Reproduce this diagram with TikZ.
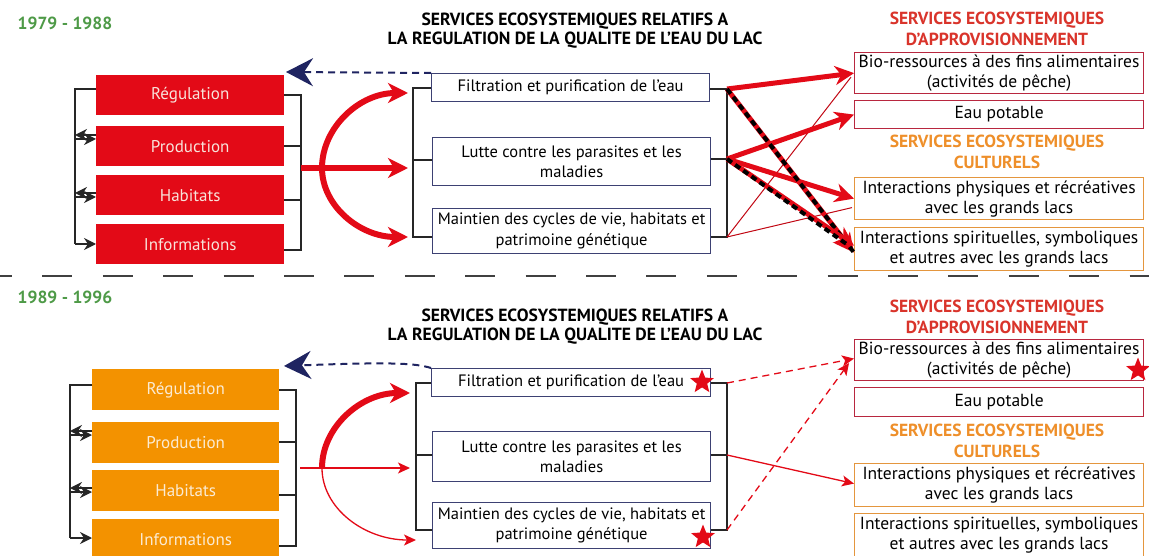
\documentclass[tikz,border=0pt]{standalone}
\usepackage{fontspec}
\setmainfont{PT Sans}
\usepackage{xcolor}
\usetikzlibrary{positioning,shapes.geometric,arrows.meta,calc}

\definecolor{regred}{HTML}{E30A17}
\definecolor{regorange}{HTML}{F39200}
\definecolor{yeargreen}{HTML}{4E9A47}
\definecolor{navyblue}{HTML}{1F2461}
\definecolor{boxblue}{HTML}{3D4173}
\definecolor{headred}{HTML}{D9342B}
\definecolor{headorange}{HTML}{EE8F2A}
\definecolor{edgered}{HTML}{B8273F}
\definecolor{edgeorange}{HTML}{E4963E}
\definecolor{palepink}{HTML}{F8E3DA}
\definecolor{cream}{HTML}{FBEBD3}

\begin{document}
\begin{tikzpicture}[x=1pt, y=-1pt,
  every node/.style={inner sep=0pt, font=\fontsize{16.5}{20.5}\selectfont},
  year/.style ={font=\bfseries\fontsize{17.5}{19}\selectfont, text=yeargreen},
  title/.style={font=\bfseries\fontsize{17.6}{19}\selectfont, align=center},
  head/.style ={font=\bfseries\fontsize{17.5}{21}\selectfont, align=center},
  func/.style ={anchor=north west, minimum width=188pt, minimum height=40pt,
                font=\fontsize{17}{19}\selectfont},
  redfunc/.style={func, fill=regred, text=palepink},
  orgfunc/.style={func, fill=regorange, text=cream},
  qual/.style ={anchor=north west, draw=boxblue, line width=1.2pt,
                minimum width=278pt, align=center},
  svc/.style  ={anchor=north west, line width=1.2pt, minimum width=289pt,
                align=center, font=\fontsize{17.5}{20}\selectfont},
  redsvc/.style={svc, draw=edgered},
  orgsvc/.style={svc, draw=edgeorange},
  redstar/.style={star, star points=5, star point ratio=2.3, fill=regred,
               minimum size=25pt},
  brk/.style ={line width=1.3pt, black!85},
  blkarr/.style={brk, -{Stealth[length=12pt,width=12pt,inset=4pt]}},
  fatarr/.style={line width=6pt, regred,
                 -{Stealth[length=20pt,width=20pt,inset=6pt]}},
  bigarr/.style={line width=5pt, regred,
                 -{Stealth[length=19pt,width=19pt,inset=6pt]}},
  thinarr/.style={line width=1.3pt, regred,
                 -{Stealth[length=12pt,width=11pt,inset=3pt]}},
  thinline/.style={line width=1pt, regred!85!black},
  blackdash/.style={line width=4pt, black, dash pattern=on 6pt off 4pt},
  navyarr/.style={line width=2pt, navyblue, dash pattern=on 7pt off 5pt,
                  -{Stealth[length=27pt,width=28pt,inset=9pt,sep=0pt]}},
  sepline/.style={line width=2pt, black!75, dash pattern=on 30pt off 30.4pt,
                  dash phase=18pt}
]
\useasboundingbox (0,0) rectangle (1149,556);

%% --- Period 1 : headers --------------------------------------
\node[year] (year1) at (65,23) {1979 - 1988};
\node[title] (title1) at (575,31)
  {SERVICES ECOSYSTEMIQUES RELATIFS A\\LA REGULATION DE LA QUALITE DE L’EAU DU LAC};

%% --- Period 1 : functions ------------------------------------
\node[redfunc] (reg1)  at (96,75)  {Régulation};
\node[redfunc] (prod1) at (96,126) {Production};
\node[redfunc] (hab1)  at (96,175) {Habitats};
\node[redfunc] (info1) at (96,224) {Informations};

\coordinate (lbR1) at (75,89);
\coordinate (lbP1) at (75,137);
\coordinate (lbH1) at (75,195);
\coordinate (lbI1) at (75,244);
\draw[brk] (reg1.west |- lbR1) -- (lbR1) -- (lbI1);
\draw[blkarr] ($(prod1.west |- lbP1)+(0,-2)$) -- ($(lbP1)+(0,-2)$);
\draw[blkarr] ($(lbP1)+(0,2)$) -- ($(prod1.west |- lbP1)+(0,2)$);
\draw[blkarr] ($(hab1.west |- lbH1)+(0,-2)$) -- ($(lbH1)+(0,-2)$);
\draw[blkarr] ($(lbH1)+(0,2)$) -- ($(hab1.west |- lbH1)+(0,2)$);
\draw[blkarr] (lbI1) -- (info1.west |- lbI1);

\coordinate (rbR1) at (301,95);
\coordinate (rbP1) at (301,146);
\coordinate (rbH1) at (301,200);
\coordinate (rbI1) at (301,250);
\draw[brk] (reg1.east |- rbR1) -- (rbR1) -- (rbI1) -- (info1.east |- rbI1);
\draw[brk] (prod1.east |- rbP1) -- (rbP1);
\draw[brk] (hab1.east |- rbH1) -- (rbH1);

%% --- Period 1 : water quality services -----------------------
\node[qual, minimum height=28pt] (filt1)  at (431,73)  {Filtration et purification de l’eau};
\node[qual, minimum height=48pt] (lutte1) at (432,137) {Lutte contre les parasites et les\\maladies};
\node[qual, minimum height=45pt] (maint1) at (432,208) {Maintien des cycles de vie, habitats et\\patrimoine génétique};

\coordinate (mbF1) at (413,88);
\coordinate (mbL1) at (413,160);
\coordinate (mbM1) at (413,237);
\draw[brk] (filt1.west |- mbF1) -- (mbF1) -- (mbM1) -- (maint1.west |- mbM1);
\draw[brk] (lutte1.west |- mbL1) -- (mbL1);

\coordinate (mrF1) at (727,89);
\coordinate (mrL1) at (727,159);
\coordinate (mrM1) at (727,237);
\draw[brk] (filt1.east |- mrF1) -- (mrF1) -- (mrM1) -- (maint1.east |- mrM1);
\draw[brk] (lutte1.east |- mrL1) -- (mrL1);

%% --- Period 1 : functions -> services ------------------------
\coordinate (out1)  at (301,168);
\coordinate (fork1) at (322,168);
\coordinate (inF1)  at (408,93);
\coordinate (inL1)  at (408,168);
\coordinate (inM1)  at (408,237);
\draw[fatarr] (out1) -- (inL1);
\draw[fatarr] (fork1) .. controls (322,127) and (360,93) .. (inF1);
\draw[fatarr] (fork1) .. controls (322,206) and (360,237) .. (inM1);
\draw[navyarr] (filt1.north west) -- (286,72);

%% --- Period 1 : final services -------------------------------
\node[head, text=headred]    (hprov1) at (997,29)  {SERVICES ECOSYSTEMIQUES\\D’APPROVISIONNEMENT};
\node[redsvc, minimum height=41pt] (bio1) at (854,52)  {Bio-ressources à des fins alimentaires\\(activités de pêche)};
\node[redsvc, minimum height=28pt] (eau1) at (854,100) {Eau potable};
\node[head, text=headorange] (hcult1) at (997,152) {SERVICES ECOSYSTEMIQUES\\CULTURELS};
\node[orgsvc, minimum height=42pt] (phys1) at (854,177) {Interactions physiques et récréatives\\avec les grands lacs};
\node[orgsvc, minimum height=43pt] (spir1) at (854,227) {Interactions spirituelles, symboliques\\et autres avec les grands lacs};

\draw[thinline] (mrM1) -- ($(bio1.west)+(-3,4)$);
\draw[thinline] (mrM1) -- ($(phys1.west)+(-2,9)$);
\draw[bigarr] (mrF1) -- (bio1.west);
\draw[bigarr] (mrL1) -- (eau1.west);
\draw[bigarr] (mrL1) -- (phys1.west);
\draw[bigarr] (mrF1) -- ($(spir1.west)+(0,3.5)$);
\draw[blackdash] (mrF1) -- ($(spir1.west)+(0,3.5)$);
\draw[bigarr] (mrL1) -- ($(spir1.west)+(0,-3.5)$);
\draw[blackdash] (mrL1) -- ($(spir1.west)+(-6,-4)$);

%% --- Separator -----------------------------------------------
\coordinate (sepL) at (0,276);
\coordinate (sepR) at (1149,276);
\draw[sepline] (sepL) -- (sepR);

%% --- Period 2 : headers --------------------------------------
\node[year] (year2) at (65,297) {1989 - 1996};
\node[title] (title2) at (575,327)
  {SERVICES ECOSYSTEMIQUES RELATIFS A\\LA REGULATION DE LA QUALITE DE L’EAU DU LAC};

%% --- Period 2 : functions ------------------------------------
\node[orgfunc, minimum width=187pt, minimum height=41pt] (reg2)  at (92,369) {Régulation};
\node[orgfunc, minimum width=187pt, minimum height=41pt] (prod2) at (92,422) {Production};
\node[orgfunc, minimum width=187pt, minimum height=41pt] (hab2)  at (92,470) {Habitats};
\node[orgfunc, minimum width=187pt, minimum height=41pt] (info2) at (92,519) {Informations};

\coordinate (lbR2) at (70,385);
\coordinate (lbP2) at (70,433);
\coordinate (lbH2) at (70,490);
\coordinate (lbI2) at (70,538);
\draw[brk] (reg2.west |- lbR2) -- (lbR2) -- (lbI2);
\draw[blkarr] ($(prod2.west |- lbP2)+(0,-2)$) -- ($(lbP2)+(0,-2)$);
\draw[blkarr] ($(lbP2)+(0,2)$) -- ($(prod2.west |- lbP2)+(0,2)$);
\draw[blkarr] ($(hab2.west |- lbH2)+(0,-2)$) -- ($(lbH2)+(0,-2)$);
\draw[blkarr] ($(lbH2)+(0,2)$) -- ($(hab2.west |- lbH2)+(0,2)$);
\draw[blkarr] (lbI2) -- (info2.west |- lbI2);

\coordinate (rbR2) at (296,390);
\coordinate (rbP2) at (296,442);
\coordinate (rbH2) at (296,495);
\coordinate (rbI2) at (296,546);
\draw[brk] (reg2.east |- rbR2) -- (rbR2) -- (rbI2) -- (info2.east |- rbI2);
\draw[brk] (prod2.east |- rbP2) -- (rbP2);
\draw[brk] (hab2.east |- rbH2) -- (rbH2);

%% --- Period 2 : water quality services -----------------------
\node[qual, minimum width=279pt, minimum height=28pt] (filt2) at (431,368) {Filtration et purification de l’eau};
\node[qual, minimum height=50pt] (lutte2) at (432,431) {Lutte contre les parasites et les\\maladies};
\node[qual, minimum height=46pt] (maint2) at (432,502) {Maintien des cycles de vie, habitats et\\patrimoine génétique};

\coordinate (mbF2) at (416,383);
\coordinate (mbL2) at (416,455);
\coordinate (mbM2) at (416,530);
\draw[brk] (filt2.west |- mbF2) -- (mbF2) -- (mbM2) -- (maint2.west |- mbM2);
\draw[brk] (lutte2.west |- mbL2) -- (mbL2);

\coordinate (mrF2) at (727,383);
\coordinate (mrL2) at (727,455);
\coordinate (mrM2) at (727,530);
\draw[brk] (filt2.east |- mrF2) -- (mrF2) -- (mrM2) -- (maint2.east |- mrM2);
\draw[brk] (lutte2.east |- mrL2) -- (mrL2);

\node[redstar] (star1) at (702,382) {};
\node[redstar] (star2) at (703,537) {};

%% --- Period 2 : functions -> services ------------------------
\coordinate (out2)  at (300,468);
\coordinate (fork2) at (322,468);
\coordinate (inF2)  at (410,393);
\coordinate (inL2)  at (410,468);
\coordinate (inM2)  at (416,540);
\draw[thinarr] (out2) -- (inL2);
\draw[fatarr] (fork2) .. controls (322,427) and (361,393) .. (inF2);
\draw[thinarr] (fork2) .. controls (322,508) and (364,540) .. (inM2);
\draw[navyarr] (filt2.north west) .. controls (415,363) and (390,362) .. (284,366);

%% --- Period 2 : final services -------------------------------
\node[head, text=headred]    (hprov2) at (997,317) {SERVICES ECOSYSTEMIQUES\\D’APPROVISIONNEMENT};
\node[redsvc, minimum height=41pt] (bio2) at (854,339) {Bio-ressources à des fins alimentaires\\(activités de pêche)};
\node[redsvc, minimum height=29pt] (eau2) at (854,387) {Eau potable};
\node[head, text=headorange] (hcult2) at (997,441) {SERVICES ECOSYSTEMIQUES\\CULTURELS};
\node[orgsvc, minimum height=43pt] (phys2) at (854,463) {Interactions physiques et récréatives\\avec les grands lacs};
\node[orgsvc, minimum height=43pt] (spir2) at (854,513) {Interactions spirituelles, symboliques\\et autres avec les grands lacs};

\node[redstar] (star3) at (1138,370) {};

\draw[thinarr, dash pattern=on 7pt off 5pt] (mrF2) -- ($(bio2.west)+(0,-1.5)$);
\draw[thinarr, dash pattern=on 7pt off 5pt] (mrM2) -- ($(bio2.west)+(-5,3)$);
\draw[thinarr] (mrL2) -- ($(phys2.west)+(0,-1.5)$);

\end{tikzpicture}
\end{document}
